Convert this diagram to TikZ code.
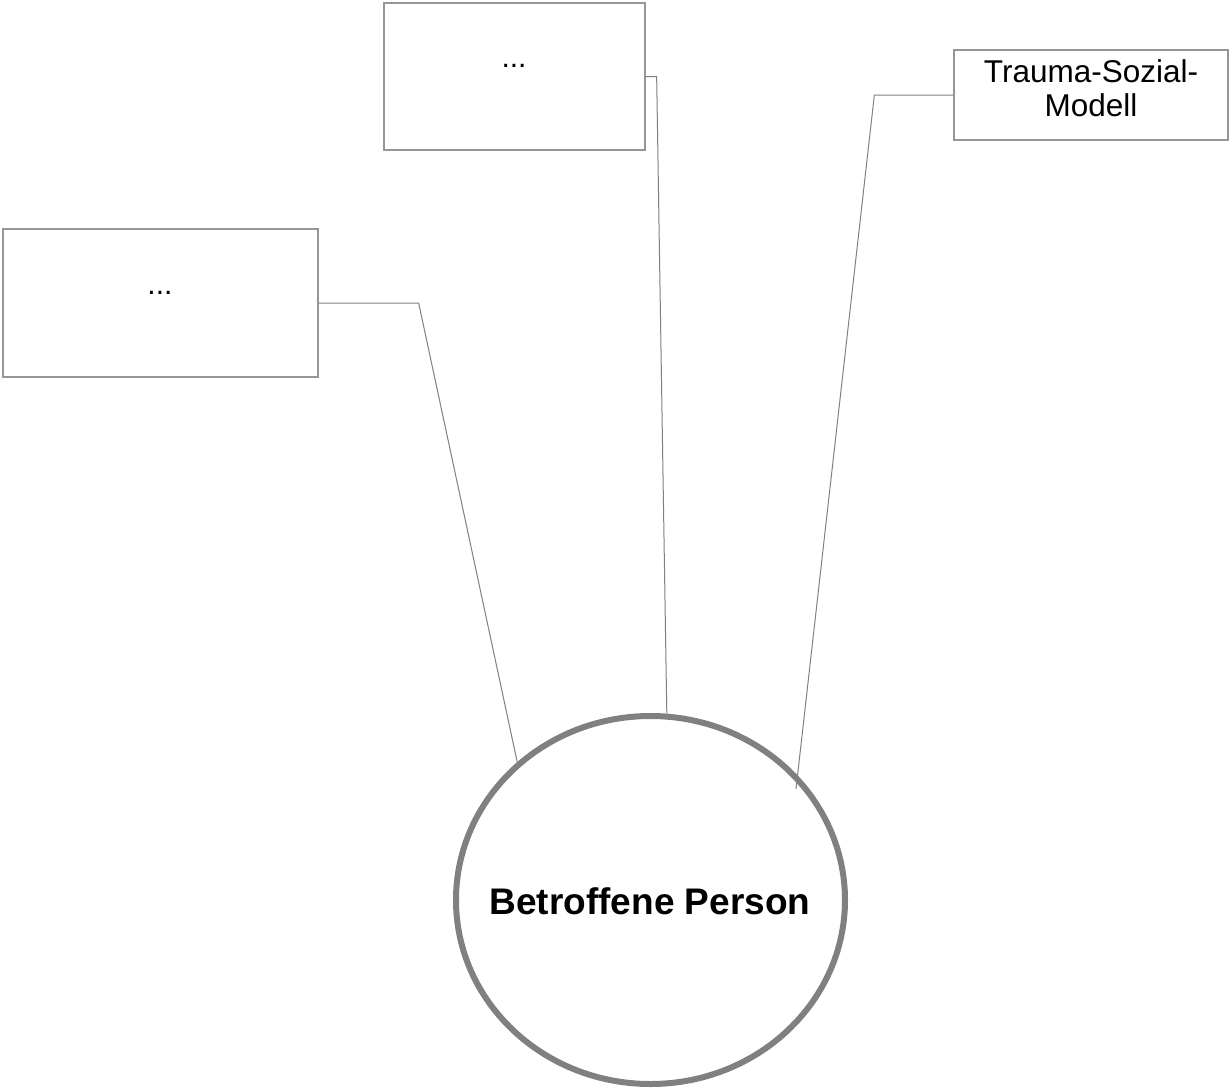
\documentclass[tikz,border=0pt]{standalone}
\usepackage{fontspec}
\setmainfont{Liberation Sans}
\usetikzlibrary{shapes.geometric}
\definecolor{boxgray}{RGB}{150,150,150}
\definecolor{linegray}{RGB}{128,128,128}
\definecolor{ringgray}{RGB}{128,128,128}
\tikzset{
  boxnode/.style={draw=boxgray, line width=1.3pt, rectangle, inner sep=0pt, fill=white},
  dotstext/.style={font=\fontsize{30}{34}\selectfont, inner sep=0pt},
  conn/.style={draw=linegray, line width=1pt},
  ring/.style={ellipse, draw=ringgray, line width=6pt, inner sep=0pt, minimum width=389pt, minimum height=368pt},
  ringtext/.style={inner sep=0pt, font=\fontsize{37}{42}\selectfont\bfseries}
}
\begin{document}
\begin{tikzpicture}[x=1pt,y=-1pt]
\useasboundingbox (0,0) rectangle (1229,1090);
\fill[white] (0,0) rectangle (1229,1090);
% boxes
\node[boxnode, minimum width=315pt, minimum height=148pt] (b1) at (160.5,303) {};
\node[dotstext] (t1) at (160,293) {...};
\node[boxnode, minimum width=261pt, minimum height=147pt] (b2) at (514.5,76.5) {};
\node[dotstext] (t2) at (514,66) {...};
\node[boxnode, minimum width=274pt, minimum height=90pt] (b3) at (1091,95) {};
\node[align=center, inner sep=0pt, font=\fontsize{31.5}{33.5}\selectfont] (t3) at (1091,88) {Trauma-Sozial-\\Modell};
% circle
\node[ring] (p) at (650.5,900) {};
\node[ringtext] (pt) at (650,901) {Betroffene Person};
\coordinate (pr) at (796,789);
% connectors
\draw[conn] (b1.east) -- ++(100,0) -- (p.134);
\draw[conn] (b2.east) -- ++(11,0) -- (p.85);
\draw[conn] (b3.west) -- ++(-79,0) -- (pr);
\end{tikzpicture}
\end{document}
